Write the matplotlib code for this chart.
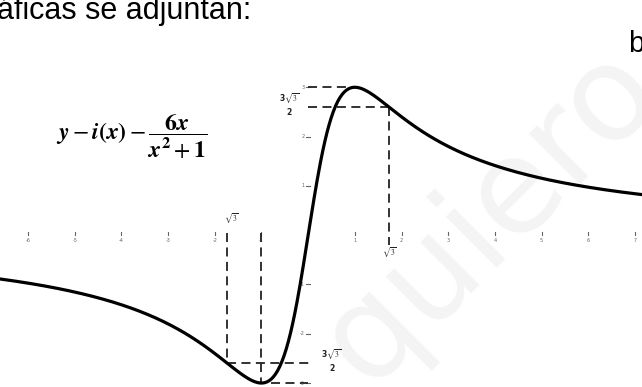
import numpy as np
import matplotlib
matplotlib.use("Agg")
import matplotlib.pyplot as plt

plt.rcParams["mathtext.fontset"] = "stix"

# f(x) = 6x / (x^2 + 1)
def f(x):
    return 6 * x / (x**2 + 1)

x_ticks = [-6, -5, -4, -3, -2, -1, 0, 1, 2, 3, 4, 5, 6, 7]
y_ticks = [-3, -2, -1, 1, 2, 3]

r3 = np.sqrt(3)
ymax = 3.0
ycrit = 3 * r3 / 2

fig = plt.figure(figsize=(6.42, 3.87), dpi=100)
ax = fig.add_axes([0, 0, 1, 1])
ax.set_xlim(-6.6, 7.15)
ax.set_ylim(-3.08, 4.77)
ax.axis("off")

# marca de agua
ax.text(3.9, 0.4, "quiero", rotation=45, fontsize=95,
        color="#f4f4f4", ha="center", va="center", zorder=0)

xs = np.linspace(-6.6, 7.15, 600)
ax.plot(xs, f(xs), color="black", lw=2.3, zorder=5)

# marcas de los ejes
tick_col = "#666666"
for t in x_ticks:
    if t == 0:
        continue
    ax.plot([t, t], [0.0, 0.06], color=tick_col, lw=0.8)
    ax.text(t, -0.06, str(t), fontsize=3.5, color=tick_col, ha="center", va="top")
for t in y_ticks:
    ax.plot([-0.05, 0.03], [t, t], color=tick_col, lw=0.8)
    ax.text(-0.08, t, str(t), fontsize=3.5, color=tick_col, ha="right", va="center")

# líneas de referencia
dash = dict(color="#222222", lw=1.3, dashes=(5, 3), zorder=3)
ax.plot([0, 1], [ymax, ymax], **dash)
ax.plot([0, r3], [ycrit, ycrit], **dash)
ax.plot([r3, r3], [ycrit, -0.2], **dash)
ax.plot([-r3, -r3], [0.05, -ycrit], **dash)
ax.plot([-1, -1], [0.05, -ymax], **dash)
ax.plot([-r3, 0.04], [-ycrit, -ycrit], **dash)
ax.plot([-0.8, 0], [-ymax, -ymax], **dash)

lab = dict(fontsize=5.5, fontweight="bold", color="#222222", ha="center")
ax.text(-0.4, ycrit + 0.05, r"3$\sqrt{3}$", va="bottom", **lab)
ax.text(-0.4, ycrit - 0.02, "2", va="top", **lab)
ax.text(0.5, -ycrit + 0.05, r"3$\sqrt{3}$", va="bottom", **lab)
ax.text(0.5, -ycrit - 0.02, "2", va="top", **lab)
ax.text(-r3 + 0.08, 0.2, r"$\sqrt{3}$", va="bottom", **lab)
ax.text(r3, -0.2, r"$\sqrt{3}$", va="top", **lab)

ax.text(-5.4, 2.0, r"$\mathbfit{y} - \mathbfit{i}\mathbf{(}\mathbfit{x}\mathbf{)} - \dfrac{\mathbf{6}\mathbfit{x}}{\mathbfit{x}^{\mathbf{2}} + \mathbf{1}}$",
        fontsize=17, ha="left", va="center")

fig.text(-0.005, 1 - 19 / 387, "áficas se adjuntan:", fontsize=22,
         family="Liberation Sans", ha="left", va="baseline")
fig.text(0.978, 1 - 52 / 387, "b", fontsize=21, family="Liberation Sans",
         ha="left", va="baseline")

fig.savefig("out.png", dpi=100)
